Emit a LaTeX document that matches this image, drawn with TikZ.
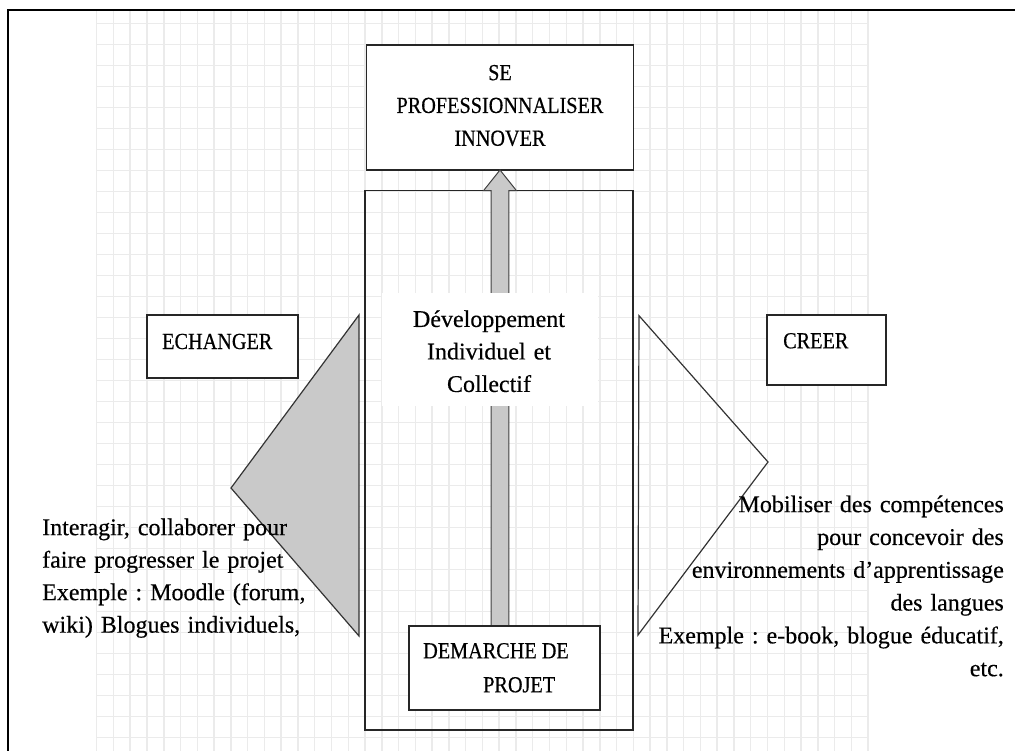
\documentclass[tikz,border=0pt]{standalone}
\usepackage{fontspec}
\setmainfont[FakeBold=0.4,WordSpace=0.7]{Liberation Serif}
\newfontfamily\capsfont[FakeStretch=0.88,FakeBold=0.4]{Liberation Serif}
\usetikzlibrary{calc}
\frenchspacing
\tikzset{
  gridline/.style={draw=black!8, line width=1.5pt},
  frameline/.style={draw=black, line width=2.5pt},
  boxshape/.style={draw=black!85, line width=1.3pt, fill=white, inner sep=0pt, outer sep=0pt},
  openbox/.style={draw=black!85, line width=1.3pt, inner sep=0pt, outer sep=0pt},
  triangle/.style={draw=black!80, line width=1.2pt, line join=miter},
  arrowshape/.style={draw=black!75, line width=1pt, fill=black!21},
  capslabel/.style={font=\capsfont\fontsize{23}{32.8}\selectfont, text=black, inner sep=0pt},
  bodytext/.style={font=\fontsize{24}{32}\selectfont, text=black, inner sep=0pt},
}
\begin{document}
\begin{tikzpicture}[x=1pt,y=-1pt]
\useasboundingbox (0,0) rectangle (1015,751);
% grid background
\foreach \i in {0,...,46} \draw[gridline] ({96.7+16.77*\i},10) -- ({96.7+16.77*\i},751);
\foreach \j in {0,...,34} \draw[gridline] (96.7,{23.3+21*\j}) -- (868.3,{23.3+21*\j});
% frame
\draw[frameline] (1015,10) -- (8,10) -- (8,751);
% central project rectangle
\node[openbox, minimum width=268pt, minimum height=539.3pt] (proj) at (499,460.35) {};
% boxes
\node[boxshape, minimum width=266.6pt, minimum height=125pt] (top) at (500,107.5) {};
\node[boxshape, minimum width=191pt, minimum height=84pt] (dem) at (504.5,668) {};
% arrow from DEMARCHE to top box
\draw[arrowshape] (top.south) -- ++(-16.5,20.7) -- ++(7.7,0)
   -- ($(top.south |- dem.north)+(-8.8,0)$) -- ++(17.6,0)
   -- ($(top.south)+(8.8,20.7)$) -- ++(7.7,0) -- cycle;
\node[boxshape, minimum width=191pt, minimum height=84pt] (dem2) at (504.5,668) {};
% development label backing
\node[fill=white, inner sep=0pt, minimum width=216pt, minimum height=113pt] (dev) at (490,349.5) {};
\node[bodytext, font=\fontsize{24}{32.5}\selectfont, anchor=north, text width=210pt, align=center] (devtext) at (489,304) {\strut D\'eveloppement\\Individuel et\\Collectif};
% triangles
\draw[triangle, fill=black!21] (359,315) -- (231,488) -- (359,636) -- cycle;
\draw[triangle] (639,315.7) -- (768,462) -- (638,635) -- cycle;
% side boxes
\node[boxshape, minimum width=151pt, minimum height=63pt] (ech) at (222.5,346.5) {};
\node[boxshape, minimum width=119pt, minimum height=70pt] (cre) at (826.5,350) {};
% labels
\node[capslabel, anchor=north, text width=260pt, align=center] (toptext) at (500,57) {\strut SE\\PROFESSIONNALISER\\INNOVER};
\node[capslabel, anchor=base west] (echtext) at (162,349) {ECHANGER};
\node[capslabel, anchor=base west] (cretext) at (783,348.3) {CREER};
\node[capslabel, anchor=base west] (demtext1) at (423,658.3) {DEMARCHE DE};
\node[capslabel, anchor=base west] (demtext2) at (483,692.3) {PROJET};
\node[bodytext, font=\fontsize{24}{32.5}\selectfont, anchor=north west, text width=300pt, align=left] (lefttext) at (42,512.2)
  {\strut Interagir, collaborer pour\\faire progresser le projet\\Exemple : Moodle (forum,\\wiki) Blogues individuels,};
\node[bodytext, font=\fontsize{24}{32.8}\selectfont, anchor=north east, text width=420pt, align=right] (righttext) at (1004,489)
  {\strut Mobiliser des comp\'etences\\pour concevoir des\\environnements d’apprentissage\\des langues\\Exemple : e-book, blogue \'educatif,\\etc.};
\end{tikzpicture}
\end{document}
